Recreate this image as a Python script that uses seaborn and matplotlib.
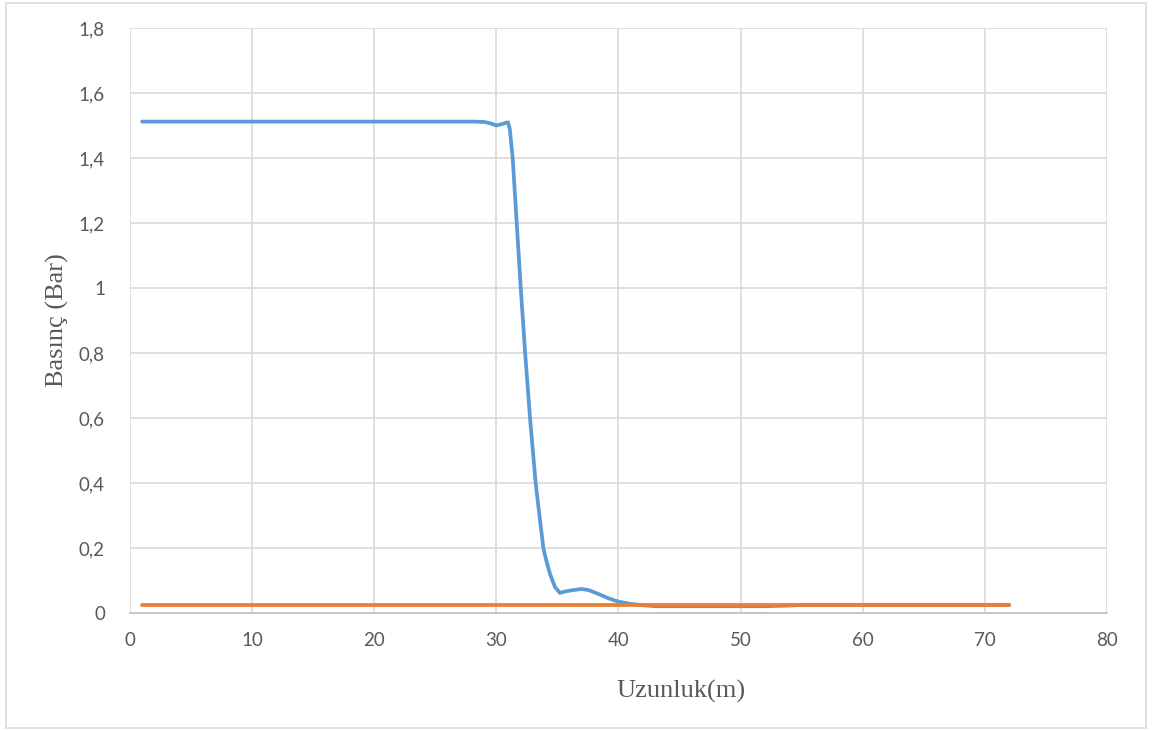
import pandas as pd
import matplotlib
matplotlib.use("Agg")
import matplotlib.pyplot as plt
import seaborn as sns
from matplotlib.patches import Rectangle

# blue series: pressure along the pipe
blue_x = (list(range(1, 30)) +
          [29.5, 30, 30.5, 30.95, 31.1, 31.34, 31.67, 32, 32.36, 32.76, 33.22, 33.5, 33.85,
           34.1, 34.4, 34.8, 35.2, 35.6, 36.2, 37, 37.6, 38.4, 39.2, 40, 41, 42] +
          list(range(43, 73)))
blue_y = ([1.512] * 28 + [1.511] +
          [1.507, 1.500, 1.505, 1.510, 1.49, 1.40, 1.20, 1.00, 0.80, 0.60, 0.40, 0.31, 0.20,
           0.16, 0.12, 0.08, 0.062, 0.066, 0.070, 0.074, 0.070, 0.058, 0.045, 0.035, 0.028, 0.024] +
          [0.021] * 10 + [0.022, 0.023] + [0.025] * 18)

# orange series
orange_x = list(range(1, 73))
orange_y = [0.024] * 72

y_ticks = [0, 0.2, 0.4, 0.6, 0.8, 1.0, 1.2, 1.4, 1.6, 1.8]
y_tick_labels = ["0", "0,2", "0,4", "0,6", "0,8", "1", "1,2", "1,4", "1,6", "1,8"]
x_ticks = [0, 10, 20, 30, 40, 50, 60, 70, 80]

blue_df = pd.DataFrame({"x": blue_x, "y": blue_y})
orange_df = pd.DataFrame({"x": orange_x, "y": orange_y})

sns.set_style("white")
plt.rcParams["font.family"] = ["Lato", "DejaVu Sans"]

fig = plt.figure(figsize=(11.52, 7.31), dpi=100)
ax = fig.add_axes([0.1128, 0.1614, 0.9609 - 0.1128, 0.9617 - 0.1614])

sns.lineplot(data=blue_df, x="x", y="y", color="#5B9BD5", linewidth=2.7, ax=ax)
sns.lineplot(data=orange_df, x="x", y="y", color="#ED7D31", linewidth=2.7, ax=ax)

ax.set_xlim(0, 80)
ax.set_ylim(0, 1.8)
ax.set_xticks(x_ticks)
ax.set_xticklabels([str(t) for t in x_ticks])
ax.set_yticks(y_ticks)
ax.set_yticklabels(y_tick_labels)
ax.grid(True, color="#D9D9D9", linewidth=1.2)
ax.set_axisbelow(True)
for side in ["left", "top", "right"]:
    ax.spines[side].set_visible(False)
ax.spines["bottom"].set_color("#BFBFBF")
ax.spines["bottom"].set_linewidth(1.2)
ax.tick_params(axis="both", length=0, labelsize=13.5, colors="#595959")
ax.tick_params(axis="y", pad=18)
ax.tick_params(axis="x", pad=14)

ax.set_xlabel("Uzunluk(m)", fontsize=19, family="Liberation Serif", color="#595959",
              labelpad=22, x=0.564)
ax.set_ylabel("Basınç (Bar)", fontsize=19, family="Liberation Serif", color="#595959", labelpad=7)

fig.patches.append(Rectangle((0.005, 0.004), 0.99, 0.992, transform=fig.transFigure,
                             fill=False, edgecolor="#D9D9D9", linewidth=1.2))

fig.savefig("out.png", dpi=100)
